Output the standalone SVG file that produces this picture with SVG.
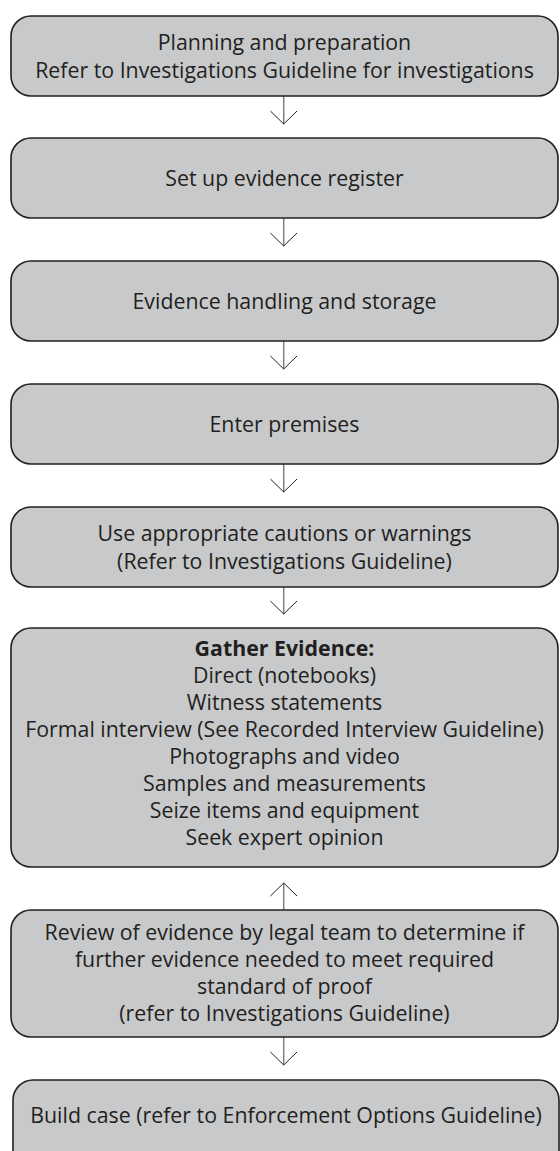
<svg xmlns="http://www.w3.org/2000/svg" width="560" height="1151" viewBox="0 0 560 1151">
  <style>
    .box { fill: #c8c9cb; stroke: #231f20; stroke-width: 1.6; }
    .t { font-family: "Open Sans", "Liberation Sans", sans-serif; font-size: 21.33px; fill: #231f20; text-anchor: middle; }
    .b { font-weight: bold; }
    .conn { stroke: #808080; stroke-width: 1.5; fill: none; marker-end: url(#arr); }
  </style>
  <defs>
    <marker id="arr" markerUnits="userSpaceOnUse" markerWidth="30" markerHeight="30" refX="0" refY="0" viewBox="-15 -15 30 30" orient="auto" overflow="visible">
      <path d="M-13,-13.3 L0,0 L-13,13.3" fill="none" stroke="#231f20" stroke-width="1"/>
    </marker>
  </defs>

  <g id="connectors">
    <line class="conn" x1="283.7" y1="96" x2="283.7" y2="124"/>
    <line class="conn" x1="283.7" y1="218" x2="283.7" y2="246"/>
    <line class="conn" x1="283.7" y1="341" x2="283.7" y2="369"/>
    <line class="conn" x1="283.7" y1="464" x2="283.7" y2="492"/>
    <line class="conn" x1="283.7" y1="587" x2="283.7" y2="614"/>
    <line class="conn" x1="283.7" y1="910" x2="283.7" y2="883"/>
    <line class="conn" x1="283.7" y1="1037" x2="283.7" y2="1065"/>
  </g>

  <g id="n1">
    <rect class="box" x="11" y="16" width="547" height="80" rx="20" ry="20"/>
    <text class="t" x="284.5" y="49.8">Planning and preparation</text>
    <text class="t" x="284.5" y="77.5">Refer to Investigations Guideline for investigations</text>
  </g>
  <g id="n2">
    <rect class="box" x="11" y="138" width="547" height="80" rx="20" ry="20"/>
    <text class="t" x="284.5" y="185.6">Set up evidence register</text>
  </g>
  <g id="n3">
    <rect class="box" x="11" y="261" width="547" height="80" rx="20" ry="20"/>
    <text class="t" x="284.5" y="308.6">Evidence handling and storage</text>
  </g>
  <g id="n4">
    <rect class="box" x="11" y="384" width="547" height="80" rx="20" ry="20"/>
    <text class="t" x="284.5" y="431.6">Enter premises</text>
  </g>
  <g id="n5">
    <rect class="box" x="11" y="507" width="547" height="80" rx="20" ry="20"/>
    <text class="t" x="284.5" y="540.8">Use appropriate cautions or warnings</text>
    <text class="t" x="284.5" y="568.5">(Refer to Investigations Guideline)</text>
  </g>
  <g id="n6">
    <rect class="box" x="11" y="628" width="547" height="239" rx="20" ry="20"/>
    <text class="t b" x="284.5" y="656">Gather Evidence:</text>
    <text class="t" x="284.5" y="683">Direct (notebooks)</text>
    <text class="t" x="284.5" y="710">Witness statements</text>
    <text class="t" x="284.5" y="737">Formal interview (See Recorded Interview Guideline)</text>
    <text class="t" x="284.5" y="764">Photographs and video</text>
    <text class="t" x="284.5" y="791">Samples and measurements</text>
    <text class="t" x="284.5" y="818">Seize items and equipment</text>
    <text class="t" x="284.5" y="845">Seek expert opinion</text>
  </g>
  <g id="n7">
    <rect class="box" x="11" y="910" width="547" height="127" rx="20" ry="20"/>
    <text class="t" x="284.5" y="940">Review of evidence by legal team to determine if</text>
    <text class="t" x="284.5" y="967">further evidence needed to meet required</text>
    <text class="t" x="284.5" y="994">standard of proof</text>
    <text class="t" x="284.5" y="1021">(refer to Investigations Guideline)</text>
  </g>
  <g id="n8">
    <rect class="box" x="13" y="1080" width="546" height="95" rx="20" ry="20"/>
    <text class="t" x="286" y="1123">Build case (refer to Enforcement Options Guideline)</text>
  </g>
</svg>
